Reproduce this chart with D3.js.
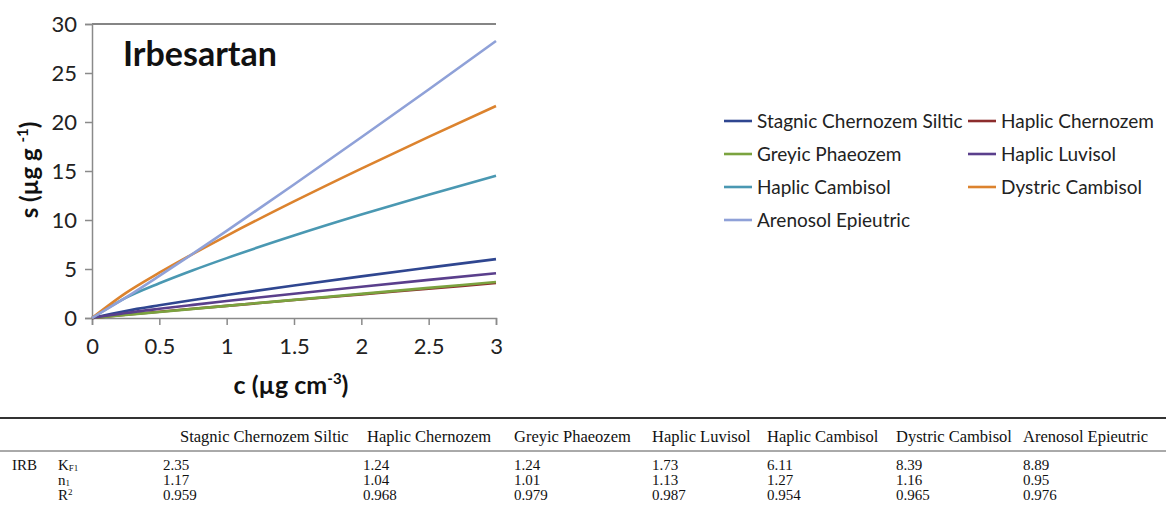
<!DOCTYPE html>
<html>
<head>
<meta charset="utf-8">
<script src="https://cdn.jsdelivr.net/npm/d3@7"></script>
<style>
  body { margin: 0; background: #fff; }
  svg { display: block; }
</style>
</head>
<body>
<svg id="chart" width="1166" height="515"></svg>
<script>
// concentration points (c, µg cm-3)
var cVals = [0, 0.25, 0.5, 0.75, 1, 1.5, 2, 2.5, 3];

// soils (legend / table order)
var soils = ["Stagnic Chernozem Siltic", "Haplic Chernozem", "Greyic Phaeozem", "Haplic Luvisol",
             "Haplic Cambisol", "Dystric Cambisol", "Arenosol Epieutric"];
var colors = ["#2f4690", "#8c2d2d", "#7ba33f", "#5a3f8c", "#4a98b2", "#dc832e", "#8fa1d8"];

// sorbed amount s (µg g-1)
var sStagnic  = [0, 0.72, 1.30, 1.84, 2.35, 3.32, 4.25, 5.14, 6.01];
var sHaplicCh = [0, 0.33, 0.64, 0.94, 1.24, 1.83, 2.41, 2.99, 3.57];
var sGreyic   = [0, 0.31, 0.62, 0.93, 1.24, 1.85, 2.46, 3.07, 3.68];
var sLuvisol  = [0, 0.51, 0.94, 1.34, 1.73, 2.48, 3.19, 3.89, 4.57];
var sHaplicCa = [0, 2.05, 3.54, 4.87, 6.11, 8.41, 10.55, 12.57, 14.51];
var sDystric  = [0, 2.54, 4.62, 6.55, 8.39, 11.90, 15.25, 18.48, 21.63];
var sArenosol = [0, 2.07, 4.29, 6.57, 8.89, 13.62, 18.44, 23.32, 28.26];

// table values
var kf1 = ["2.35", "1.24", "1.24", "1.73", "6.11", "8.39", "8.89"];
var n1  = ["1.17", "1.04", "1.01", "1.13", "1.27", "1.16", "0.95"];
var r2  = ["0.959", "0.968", "0.979", "0.987", "0.954", "0.965", "0.976"];

var xTicks = [0, 0.5, 1, 1.5, 2, 2.5, 3];
var yTicks = [0, 5, 10, 15, 20, 25, 30];

var seriesVals = [sStagnic, sHaplicCh, sGreyic, sLuvisol, sHaplicCa, sDystric, sArenosol];

var svg = d3.select("#chart");
var sans = "Lato, 'Open Sans', sans-serif";
var serif = "'Liberation Serif', 'DejaVu Serif', serif";

var x = d3.scaleLinear().domain([0, 3]).range([92, 496]);
var y = d3.scaleLinear().domain([0, 30]).range([318, 24]);

// top border line
svg.append("line")
  .attr("x1", x(0)).attr("x2", x(3)).attr("y1", y(30)).attr("y2", y(30))
  .attr("stroke", "#858585").attr("stroke-width", 2);

// y axis
var yAxis = svg.append("g").attr("transform", "translate(" + x(0) + ",0)")
  .call(d3.axisLeft(y).tickValues(yTicks).tickSize(7).tickPadding(8).tickFormat(d3.format("d")));
yAxis.select(".domain").attr("stroke", "#8a8a8a").attr("stroke-width", 1.5);
yAxis.selectAll(".tick line").attr("stroke", "#8a8a8a").attr("stroke-width", 1.5);
yAxis.selectAll("text").attr("font-family", sans).attr("font-size", 22).attr("fill", "#222");

// x axis
var xAxis = svg.append("g").attr("transform", "translate(0," + y(0) + ")")
  .call(d3.axisBottom(x).tickValues(xTicks).tickSize(7).tickPadding(13).tickFormat(d3.format("")));
xAxis.select(".domain").attr("stroke", "#8a8a8a").attr("stroke-width", 1.5);
xAxis.selectAll(".tick line").attr("stroke", "#8a8a8a").attr("stroke-width", 1.5);
xAxis.selectAll("text").attr("font-family", sans).attr("font-size", 22).attr("fill", "#222");

// lines
var line = d3.line()
  .x(function (d, i) { return x(cVals[i]); })
  .y(function (d) { return y(d); })
  .curve(d3.curveMonotoneX);

svg.append("g").selectAll("path")
  .data(seriesVals)
  .join("path")
  .attr("d", line)
  .attr("fill", "none")
  .attr("stroke", function (d, i) { return colors[i]; })
  .attr("stroke-width", 2.6);

// chart title
svg.append("text").attr("x", 123).attr("y", 66)
  .attr("font-family", sans).attr("font-weight", "bold").attr("font-size", 34).attr("fill", "#111")
  .text("Irbesartan");

// axis titles
var xt = svg.append("text").attr("x", 291).attr("y", 394).attr("text-anchor", "middle")
  .attr("font-family", sans).attr("font-weight", "bold").attr("font-size", 25).attr("fill", "#111");
xt.append("tspan").text("c (µg cm");
xt.append("tspan").attr("font-size", 15).attr("dy", -10).text("-3");
xt.append("tspan").attr("dy", 10).text(")");

var yt = svg.append("text").attr("transform", "translate(38,170) rotate(-90)").attr("text-anchor", "middle")
  .attr("font-family", sans).attr("font-weight", "bold").attr("font-size", 24).attr("fill", "#111");
yt.append("tspan").text("s (µg g ");
yt.append("tspan").attr("font-size", 15).attr("dy", -10).text("-1");
yt.append("tspan").attr("dy", 10).text(")");

// legend
var legX = [724, 968];
var legY0 = 121, legStep = 33;
var leg = svg.append("g").selectAll("g")
  .data(soils)
  .join("g")
  .attr("transform", function (d, i) {
    return "translate(" + legX[i % 2] + "," + (legY0 + Math.floor(i / 2) * legStep) + ")";
  });
leg.append("line").attr("x1", 0).attr("x2", 28).attr("y1", 0).attr("y2", 0)
  .attr("stroke", function (d, i) { return colors[i]; }).attr("stroke-width", 2.6);
leg.append("text").attr("x", 33).attr("y", 7)
  .attr("font-family", sans).attr("font-size", 19).attr("fill", "#222")
  .text(function (d) { return d; });

// table
var colHead = [180, 367, 514, 652, 767, 896, 1023];
var colData = [163, 363, 514, 652, 767, 896, 1023];
var tbl = svg.append("g").attr("font-family", serif).attr("font-size", 15).attr("fill", "#111");

tbl.append("line").attr("x1", 0).attr("x2", 1166).attr("y1", 418).attr("y2", 418)
  .attr("stroke", "#333").attr("stroke-width", 1.8);
tbl.append("line").attr("x1", 0).attr("x2", 1166).attr("y1", 451).attr("y2", 451)
  .attr("stroke", "#555").attr("stroke-width", 1);

tbl.selectAll("text.head").data(soils).join("text").attr("class", "head")
  .attr("x", function (d, i) { return colHead[i]; }).attr("y", 442)
  .attr("font-size", 16.5)
  .text(function (d) { return d; });

var rowY = [470, 485, 500];
tbl.append("text").attr("x", 12).attr("y", rowY[0]).text("IRB");

var k = tbl.append("text").attr("x", 58).attr("y", rowY[0]).text("K");
k.append("tspan").attr("font-size", 9).attr("dy", 1).text("F1");
var nn = tbl.append("text").attr("x", 58).attr("y", rowY[1]).text("n");
nn.append("tspan").attr("font-size", 9).attr("dy", 1).text("1");
var rr = tbl.append("text").attr("x", 58).attr("y", rowY[2]).text("R");
rr.append("tspan").attr("font-size", 9).attr("dy", -5).text("2");

[kf1, n1, r2].forEach(function (row, r) {
  tbl.append("g").selectAll("text").data(row).join("text")
    .attr("x", function (d, i) { return colData[i]; }).attr("y", rowY[r])
    .text(function (d) { return d; });
});
</script>
</body>
</html>
